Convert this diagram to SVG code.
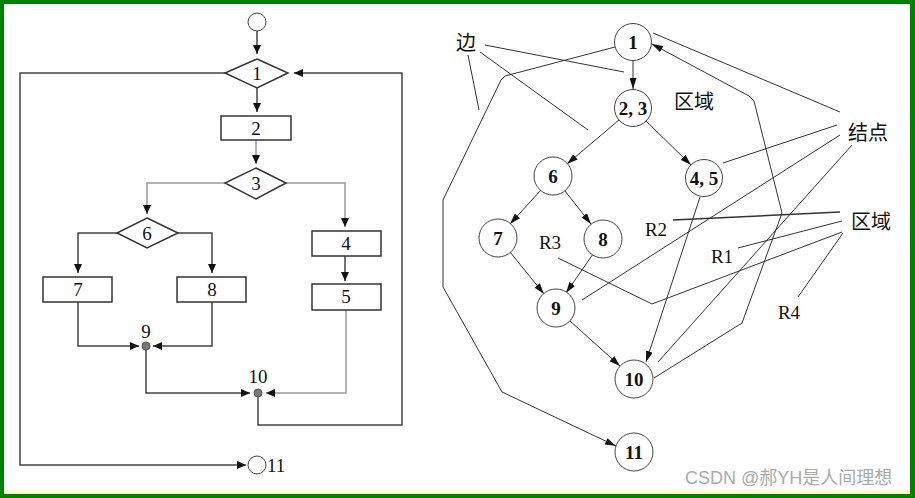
<svg xmlns="http://www.w3.org/2000/svg" width="915" height="498" viewBox="0 0 915 498">
<defs>
<style>
.ln{fill:none;stroke:#444;stroke-width:1.5}
.lg{fill:none;stroke:#999;stroke-width:1.5}
.rl{fill:none;stroke:#333;stroke-width:1}
.shape{fill:#fff;stroke:#333;stroke-width:1.5}
.node{fill:#fff;stroke:#444;stroke-width:1}
.t{font-family:"Liberation Serif","Noto Sans CJK SC",serif;font-size:19px;fill:#111;text-anchor:middle}
.tb{font-family:"Liberation Serif",serif;font-size:19px;font-weight:bold;fill:#111;text-anchor:middle}
.cjk{font-family:"Noto Sans CJK SC","Liberation Serif",serif;font-size:20px;fill:#111;text-anchor:middle}
.wm{font-family:"Liberation Sans","Noto Sans CJK SC",sans-serif;font-size:18px;fill:#aaa}
</style>
<marker id="a" markerUnits="userSpaceOnUse" markerWidth="9" markerHeight="8" refX="9" refY="4" orient="auto">
<path d="M0,0 L9,4 L0,8 z" fill="#111"/>
</marker>
<marker id="b" markerUnits="userSpaceOnUse" markerWidth="11" markerHeight="7" refX="11" refY="3.5" orient="auto">
<path d="M0,0 L11,3.5 L0,7 z" fill="#111"/>
</marker>
</defs>
<rect x="0" y="0" width="915" height="498" fill="#008000"/>
<rect x="4" y="4" width="906" height="490" fill="#ffffcc"/>
<rect x="4" y="4" width="906" height="485" fill="#ffffff"/>

<g id="left-connectors">
<line class="ln" x1="257" y1="31" x2="257" y2="54" marker-end="url(#a)"/>
<line class="ln" x1="257" y1="88" x2="257" y2="112" marker-end="url(#a)"/>
<line class="lg" x1="256" y1="140" x2="256" y2="164" marker-end="url(#a)"/>
<polyline class="lg" points="225,183 147,183 147,214" marker-end="url(#a)"/>
<polyline class="lg" points="286,183 345,183 345,227" marker-end="url(#a)"/>
<polyline class="ln" points="117,233 78,233 78,273" marker-end="url(#a)"/>
<polyline class="ln" points="178,233 212,233 212,273" marker-end="url(#a)"/>
<line class="ln" x1="345" y1="256" x2="345" y2="281" marker-end="url(#a)"/>
<polyline class="ln" points="78,302 78,346 139,346" marker-end="url(#a)"/>
<polyline class="ln" points="212,302 212,346 153,346" marker-end="url(#a)"/>
<polyline class="ln" points="146,350 146,393 250,393" marker-end="url(#a)"/>
<polyline class="lg" points="346,310 346,393 266,393" marker-end="url(#a)"/>
<polyline class="ln" points="258,397 258,425 402,425 402,73 294,73" marker-end="url(#a)"/>
<polyline class="ln" points="225,73 20,73 20,465 246,465" marker-end="url(#a)"/>
</g>

<g id="start"><circle class="node" cx="257" cy="22" r="9"/></g>
<g id="f1"><polygon class="shape" points="257,59 288,73 257,88 225,73"/><text class="t" x="257" y="80">1</text></g>
<g id="f2"><rect class="shape" x="221" y="116" width="70" height="24"/><text class="t" x="256" y="135">2</text></g>
<g id="f3"><polygon class="shape" points="256,168 286,183 256,199 225,183"/><text class="t" x="256" y="190">3</text></g>
<g id="f6"><polygon class="shape" points="147,218 178,233 147,248 117,233"/><text class="t" x="147" y="240">6</text></g>
<g id="f4"><rect class="shape" x="312" y="231" width="69" height="25"/><text class="t" x="346" y="250">4</text></g>
<g id="f5"><rect class="shape" x="312" y="284" width="69" height="26"/><text class="t" x="346" y="303">5</text></g>
<g id="f7"><rect class="shape" x="43" y="277" width="69" height="25"/><text class="t" x="78" y="296">7</text></g>
<g id="f8"><rect class="shape" x="177" y="277" width="69" height="25"/><text class="t" x="212" y="296">8</text></g>
<g id="f9"><circle cx="146" cy="346" r="4" fill="#777" stroke="#555"/><text class="t" x="146" y="338">9</text></g>
<g id="f10"><circle cx="258" cy="393" r="4" fill="#777" stroke="#555"/><text class="t" x="258" y="383">10</text></g>
<g id="f11"><circle class="node" cx="257" cy="465" r="9"/><text class="t" x="267" y="472" style="text-anchor:start">11</text></g>

<g id="right-connectors">
<line class="rl" x1="633" y1="61" x2="633" y2="89" marker-end="url(#b)"/>
<line class="rl" x1="619" y1="120" x2="567" y2="164" marker-end="url(#b)"/>
<line class="rl" x1="646" y1="121" x2="691" y2="165" marker-end="url(#b)"/>
<line class="rl" x1="541" y1="190" x2="510" y2="224" marker-end="url(#b)"/>
<line class="rl" x1="565" y1="191" x2="591" y2="224" marker-end="url(#b)"/>
<line class="rl" x1="510" y1="252" x2="544" y2="294" marker-end="url(#b)"/>
<line class="rl" x1="593" y1="254" x2="566" y2="293" marker-end="url(#b)"/>
<line class="rl" x1="570" y1="321" x2="620" y2="366" marker-end="url(#b)"/>
<line class="rl" x1="700" y1="197" x2="646" y2="362" marker-end="url(#b)"/>
<polyline class="rl" points="654,378 742,323 782,213 754,101 749,96 652,44" marker-end="url(#b)"/>
<polyline class="rl" points="615,47 505,76 501,80 443,200 443,287 502,392 616,446" marker-end="url(#b)"/>
<line class="rl" x1="485" y1="45" x2="624" y2="72"/>
<line class="rl" x1="480" y1="52" x2="588" y2="130"/>
<line class="rl" x1="468" y1="55" x2="479" y2="110"/>
<line class="rl" x1="840" y1="112" x2="653" y2="33"/>
<line class="rl" x1="837" y1="125" x2="723" y2="163"/>
<line class="rl" x1="840" y1="135" x2="582" y2="300"/>
<line class="rl" x1="852" y1="145" x2="658" y2="362"/>
<line class="rl" x1="840" y1="212" x2="673" y2="220" style="stroke-width:1.5"/>
<line class="rl" x1="842" y1="221" x2="738" y2="248"/>
<polyline class="rl" points="842,232 652,304 558,258"/>
<line class="rl" x1="843" y1="233" x2="798" y2="297"/>
</g>

<g id="n1"><circle class="node" cx="633" cy="42" r="18.5"/><text class="tb" x="633" y="49">1</text></g>
<g id="n23"><circle class="node" cx="633" cy="108" r="18.5"/><text class="tb" x="633" y="115">2, 3</text></g>
<g id="n6"><circle class="node" cx="553" cy="176" r="19"/><text class="tb" x="553" y="183">6</text></g>
<g id="n45"><circle class="node" cx="704" cy="178" r="18.5"/><text class="tb" x="704" y="185">4, 5</text></g>
<g id="n7"><circle class="node" cx="498" cy="238" r="19"/><text class="tb" x="498" y="245">7</text></g>
<g id="n8"><circle class="node" cx="603" cy="239" r="19"/><text class="tb" x="603" y="246">8</text></g>
<g id="n9"><circle class="node" cx="556" cy="308" r="19"/><text class="tb" x="556" y="315">9</text></g>
<g id="n10"><circle class="node" cx="634" cy="379" r="19"/><text class="tb" x="634" y="386">10</text></g>
<g id="n11"><circle class="node" cx="634" cy="452" r="19"/><text class="tb" x="634" y="459">11</text></g>

<g id="labels">
<text class="cjk" x="466" y="50">边</text>
<text class="cjk" x="694" y="109">区域</text>
<text class="cjk" x="868" y="140">结点</text>
<text class="cjk" x="871" y="229">区域</text>
<text class="t" x="656" y="236">R2</text>
<text class="t" x="722" y="263">R1</text>
<text class="t" x="550" y="249">R3</text>
<text class="t" x="789" y="319">R4</text>
</g>
<text class="wm" x="685" y="484">CSDN @郝YH是人间理想</text>
</svg>
